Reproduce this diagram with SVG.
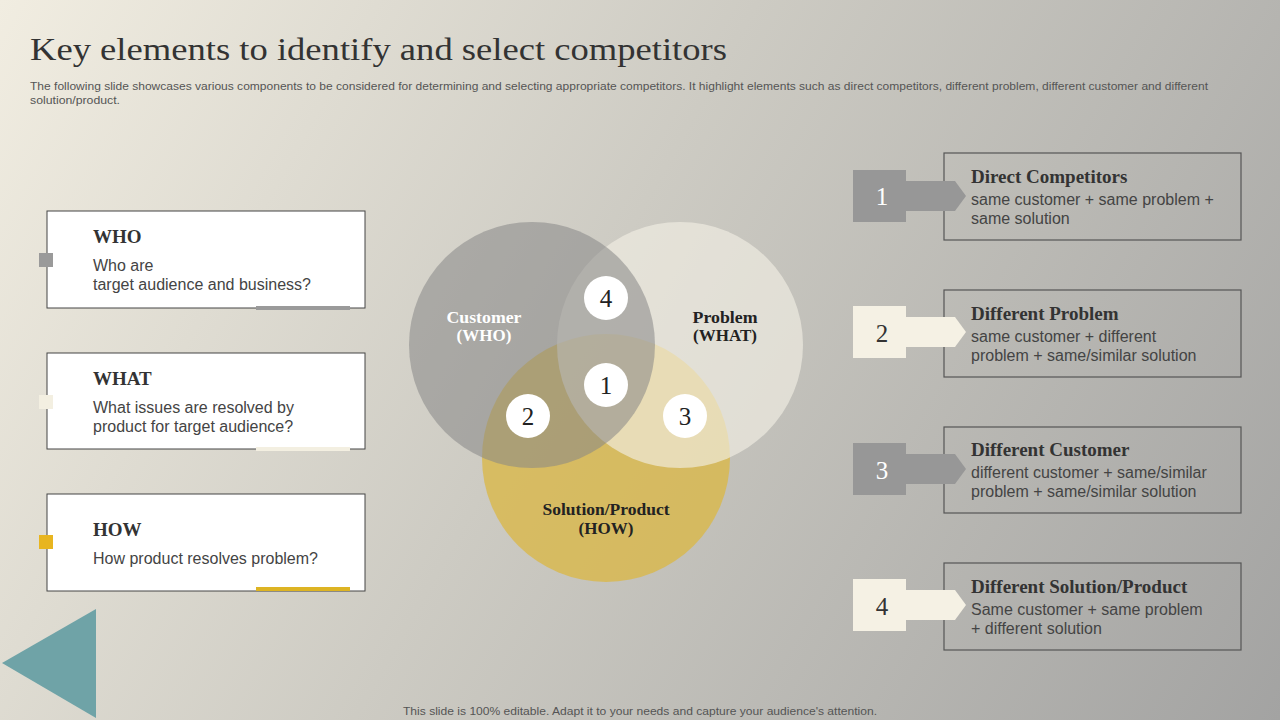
<svg xmlns="http://www.w3.org/2000/svg" width="1280" height="720" viewBox="0 0 1280 720">
<defs>
<linearGradient id="bg" x1="0" y1="0" x2="1280" y2="720" gradientUnits="userSpaceOnUse">
<stop offset="0" stop-color="#f1ede1"/>
<stop offset="0.45" stop-color="#cdcbc3"/>
<stop offset="1" stop-color="#a3a3a2"/>
</linearGradient>
<style>
.ttl{font-family:"Liberation Serif","DejaVu Serif",serif;fill:#333;}
.hd{font-family:"Liberation Serif","DejaVu Serif",serif;font-weight:bold;font-size:19px;fill:#333;}
.tx{font-family:"Liberation Sans",Arial,sans-serif;font-size:16px;fill:#444;}
.sm{font-family:"Liberation Sans",Arial,sans-serif;font-size:11px;fill:#555;}
.card{fill:#ffffff;stroke:#444;stroke-width:1;}
.rbox{fill:none;stroke:#555;stroke-width:1.2;}
.vl{font-family:"Liberation Serif","DejaVu Serif",serif;font-weight:bold;font-size:17px;text-anchor:middle;}
.num{font-family:"Liberation Serif","DejaVu Serif",serif;font-size:25px;text-anchor:middle;}
.gray{fill:#979797;}
.cream{fill:#f5f1e4;}
</style>
</defs>
<rect width="1280" height="720" fill="url(#bg)"/>

<text class="ttl" x="30" y="60" font-size="31" textLength="697" lengthAdjust="spacingAndGlyphs">Key elements to identify and select competitors</text>
<text class="sm" x="30" y="90" textLength="1178" lengthAdjust="spacingAndGlyphs">The following slide showcases various components to be considered for determining and selecting appropriate competitors. It highlight elements such as direct competitors, different problem, different customer and different</text>
<text class="sm" x="30" y="104" textLength="90" lengthAdjust="spacingAndGlyphs">solution/product.</text>

<g id="who">
<rect class="card" x="47" y="211" width="318" height="97"/>
<rect x="39" y="253" width="14" height="14" fill="#9a9a9a"/>
<rect x="256" y="306" width="94" height="4" fill="#9a9a9a"/>
<text class="hd" x="93" y="243">WHO</text>
<text class="tx" x="93" y="271">Who are</text>
<text class="tx" x="93" y="290">target audience and business?</text>
</g>
<g id="what">
<rect class="card" x="47" y="353" width="318" height="96"/>
<rect x="39" y="395" width="14" height="14" fill="#f3efe1"/>
<rect x="256" y="447" width="94" height="4" fill="#f3efe1"/>
<text class="hd" x="93" y="385">WHAT</text>
<text class="tx" x="93" y="413">What issues are resolved by</text>
<text class="tx" x="93" y="432">product for target audience?</text>
</g>
<g id="how">
<rect class="card" x="47" y="494" width="318" height="97"/>
<rect x="39" y="535" width="14" height="14" fill="#e8b520"/>
<rect x="256" y="587" width="94" height="4" fill="#ddb423"/>
<text class="hd" x="93" y="536">HOW</text>
<text class="tx" x="93" y="564">How product resolves problem?</text>
</g>

<g id="venn">
<circle cx="606" cy="458" r="124" fill="#d9b84a" opacity="0.8"/>
<circle cx="680" cy="345" r="123" fill="#f1eee4" opacity="0.65"/>
<circle cx="532" cy="345" r="123" fill="#878787" opacity="0.55"/>
<text class="vl" x="484" y="323" fill="#ffffff" textLength="75" lengthAdjust="spacingAndGlyphs">Customer</text>
<text class="vl" x="484" y="341" fill="#ffffff">(WHO)</text>
<text class="vl" x="725" y="323" fill="#222" textLength="65" lengthAdjust="spacingAndGlyphs">Problem</text>
<text class="vl" x="725" y="341" fill="#222">(WHAT)</text>
<text class="vl" x="606" y="515" fill="#222" textLength="127" lengthAdjust="spacingAndGlyphs">Solution/Product</text>
<text class="vl" x="606" y="534" fill="#222">(HOW)</text>
</g>
<g id="venn-marks">
<circle cx="606" cy="298" r="22" fill="#fff"/>
<text class="num" x="606" y="307" fill="#222">4</text>
<circle cx="606" cy="385" r="22" fill="#fff"/>
<text class="num" x="606" y="394" fill="#222">1</text>
<circle cx="528" cy="416" r="22" fill="#fff"/>
<text class="num" x="528" y="425" fill="#222">2</text>
<circle cx="685" cy="416" r="22" fill="#fff"/>
<text class="num" x="685" y="425" fill="#222">3</text>
</g>

<g id="item1">
<rect class="rbox" x="944" y="153" width="297" height="87"/>
<rect class="gray" x="853" y="170" width="53" height="52"/>
<path class="gray" d="M905 181 H955 L966 196 L955 211 H905 Z"/>
<text class="num" x="882" y="205" fill="#fff">1</text>
<text class="hd" x="971" y="183">Direct Competitors</text>
<text class="tx" x="971" y="205">same customer  + same problem +</text>
<text class="tx" x="971" y="224">same solution</text>
</g>
<g id="item2">
<rect class="rbox" x="944" y="290" width="297" height="87"/>
<rect class="cream" x="853" y="306" width="53" height="52"/>
<path class="cream" d="M905 317 H955 L966 332 L955 347 H905 Z"/>
<text class="num" x="882" y="342" fill="#333">2</text>
<text class="hd" x="971" y="320">Different Problem</text>
<text class="tx" x="971" y="342">same customer  + different</text>
<text class="tx" x="971" y="361">problem + same/similar solution</text>
</g>
<g id="item3">
<rect class="rbox" x="944" y="427" width="297" height="86"/>
<rect class="gray" x="853" y="443" width="53" height="52"/>
<path class="gray" d="M905 454 H955 L966 469 L955 484 H905 Z"/>
<text class="num" x="882" y="479" fill="#fff">3</text>
<text class="hd" x="971" y="456">Different Customer</text>
<text class="tx" x="971" y="478">different customer + same/similar</text>
<text class="tx" x="971" y="497">problem + same/similar solution</text>
</g>
<g id="item4">
<rect class="rbox" x="944" y="563" width="297" height="87"/>
<rect class="cream" x="853" y="579" width="53" height="52"/>
<path class="cream" d="M905 590 H955 L966 605 L955 620 H905 Z"/>
<text class="num" x="882" y="615" fill="#333">4</text>
<text class="hd" x="971" y="593">Different Solution/Product</text>
<text class="tx" x="971" y="615">Same customer + same problem</text>
<text class="tx" x="971" y="634">+ different solution</text>
</g>

<polygon points="96,609 96,718 2,663" fill="#6fa3a7"/>
<text class="sm" x="640" y="715" font-size="12" text-anchor="middle" textLength="474" lengthAdjust="spacingAndGlyphs">This slide is 100% editable. Adapt it to your needs and capture your audience's attention.</text>
</svg>
